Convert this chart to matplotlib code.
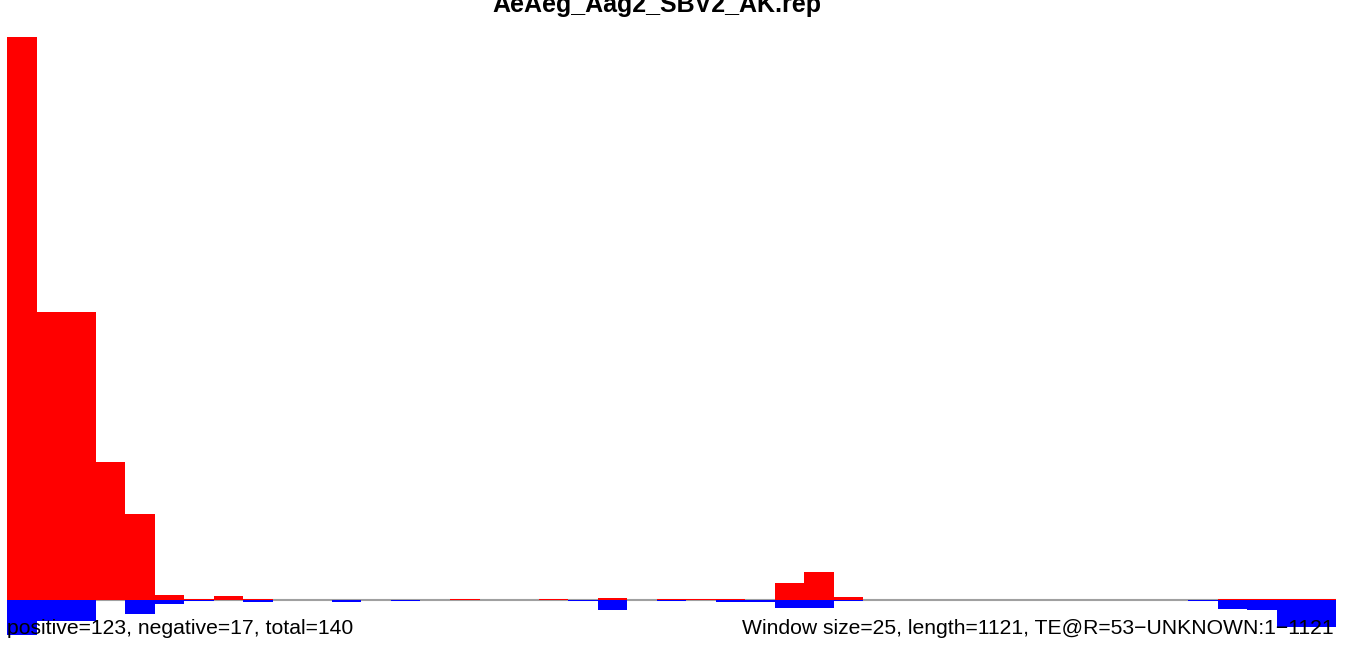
import numpy as np
import matplotlib
matplotlib.use('Agg')
import matplotlib.pyplot as plt

plt.rcParams['font.family'] = ['Liberation Sans', 'DejaVu Sans']

# read density per 25 nt window
window = 25
length = 1121
title = 'AeAeg_Aag2_SBV2_AK.rep'

positive = [48.0, 24.5, 24.55, 11.7, 7.3, 0.4, 0.09, 0.32, 0.08, 0, 0, 0, 0, 0, 0,
            0.08, 0, 0, 0.08, 0, 0.17, 0, 0.06, 0.08, 0.05, 0, 1.45, 2.39, 0.26, 0,
            0, 0, 0, 0, 0, 0, 0, 0, 0, 0, 0, 0.06, 0.06, 0.06, 0.06]
negative = [3.0, 1.79, 1.79, 0, 1.22, 0.37, 0.09, 0, 0.17, 0, 0, 0.17, 0, 0.09, 0,
            0, 0, 0, 0, 0.08, 0.85, 0, 0.1, 0, 0.17, 0.17, 0.68, 0.74, 0.09, 0,
            0, 0, 0, 0, 0, 0, 0, 0, 0, 0, 0.08, 0.77, 0.85, 2.3, 2.3]

starts = np.arange(len(positive)) * window

W, H = 1347, 646
fig = plt.figure(figsize=(W / 100, H / 100), dpi=100)

# plot area in pixels
left_px, right_px = 7, 1336
top_px, zero_px = 36.7, 599.7
scale = (zero_px - top_px) / max(positive)   # px per unit
ymin = -(H - zero_px) / scale

ax = fig.add_axes([left_px / W, 0, (right_px - left_px) / W, (H - top_px) / H])
ax.axhline(0, color='#a0a0a0', lw=1.5, zorder=1)
ax.bar(starts, positive, width=window, align='edge', color='red', lw=0, zorder=2)
ax.bar(starts, [-v for v in negative], width=window, align='edge', color='blue', lw=0, zorder=2)
ax.set_xlim(0, len(positive) * window)
ax.set_ylim(ymin, max(positive))
ax.axis('off')

fig.text(657 / W, (H - 12.3) / H, title, ha='center', va='baseline',
         fontsize=18, fontweight='bold')
fig.text(left_px / W, (H - 634.3) / H, 'positive=123, negative=17, total=140',
         ha='left', va='baseline', fontsize=15.2)
fig.text(1334 / W, (H - 634.3) / H,
         'Window size=25, length=1121, TE@R=53\u2212UNKNOWN:1\u22121121',
         ha='right', va='baseline', fontsize=15.2)

fig.savefig('out.png', dpi=100)
